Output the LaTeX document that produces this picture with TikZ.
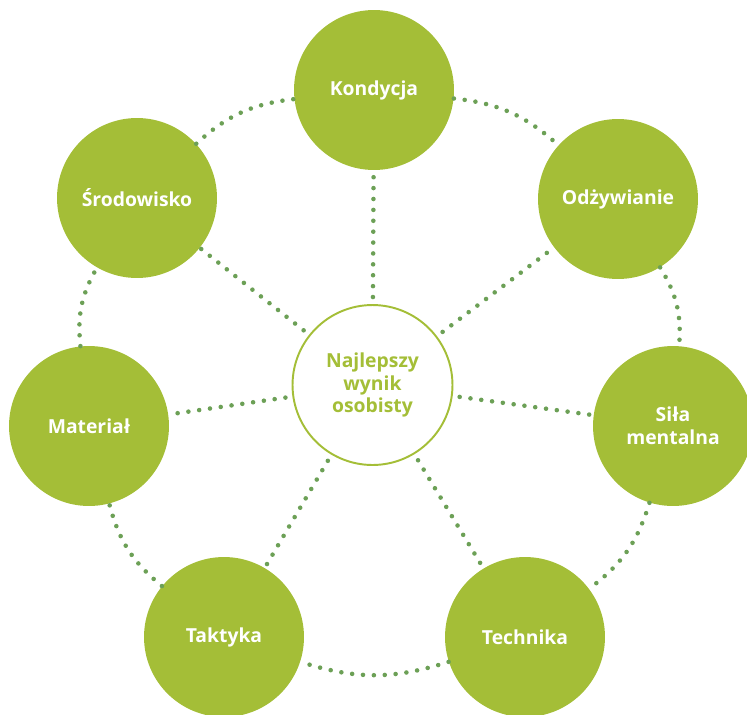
\documentclass[tikz,border=0pt]{standalone}
\usepackage{fontspec}
\setmainfont{Open Sans}
\definecolor{leaf}{RGB}{164,190,55}
\definecolor{dotgreen}{RGB}{108,160,86}

\begin{document}
\begin{tikzpicture}[x=0.02cm, y=-0.02cm,
    factor/.style={circle, fill=leaf, minimum size=3.2cm, inner sep=0pt, align=center,
      text=white, font=\fontsize{11}{13}\selectfont\bfseries},
    goal/.style={circle, draw=leaf, line width=1.1pt, fill=white, minimum size=3.2cm,
      inner sep=0pt, align=center, text=leaf, font=\fontsize{11}{13}\selectfont\bfseries},
    link/.style={dotgreen, line width=2.6pt, line cap=round, dash pattern=on 0pt off 6.2pt}]
            \useasboundingbox (0,0) rectangle (747,714);

            \node [goal] (nw) at (372.5,385) {Najlepszy\\wynik\\osobisty};

            \node [factor] (ko) at (374,90) {Kondycja};
            \node [factor] (od) at (618,199) {Odżywianie};
            \node [factor] (si) at (673,426) {Siła\\mentalna};
            \node [factor] (te) at (525,637) {Technika};
            \node [factor] (ta) at (224,637) {Taktyka};
            \node [factor] (ma) at (89,426) {Materiał};
            \node [factor] (sr) at (137,198) {Środowisko};

            % spokes
            \foreach \f in {ko, od, si, te, ta, ma, sr}
                \draw [link, shorten <=4pt] (nw) -- (\f);

            % outer ring
            \draw [link] (ko) to [bend left=18] (od);
            \draw [link] (od) to [bend left=18] (si);
            \draw [link] (si) to [bend left=18] (te);
            \draw [link] (te) to [bend left=18] (ta);
            \draw [link] (ta) to [bend left=18] (ma);
            \draw [link] (ma) to [bend left=18] (sr);
            \draw [link] (sr) to [bend left=18] (ko);
        \end{tikzpicture}
\end{document}
